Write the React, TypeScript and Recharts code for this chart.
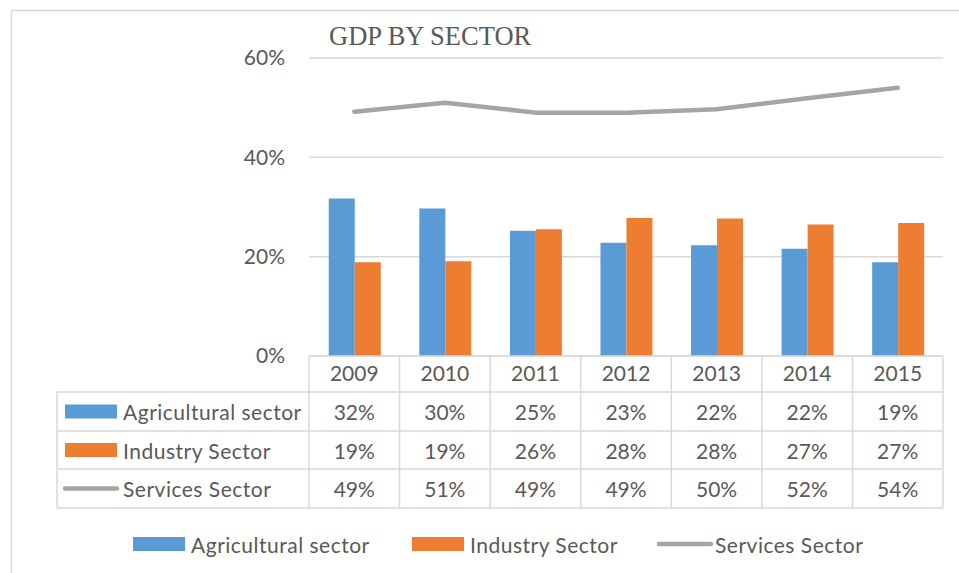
import React from 'react';
import { ComposedChart, Bar, Line, XAxis, YAxis, CartesianGrid } from 'recharts';

const years = ['2009', '2010', '2011', '2012', '2013', '2014', '2015'];
const agricultural = [31.7, 29.7, 25.2, 22.8, 22.3, 21.6, 18.9];
const industry = [18.9, 19.1, 25.5, 27.8, 27.7, 26.5, 26.8];
const services = [49.2, 51.0, 49.0, 49.0, 49.7, 51.9, 54.0];
const yTicks = [0, 20, 40, 60];
const seriesNames = ['Agricultural sector', 'Industry Sector', 'Services Sector'];

const BLUE = '#5b9bd5';
const ORANGE = '#ed7d31';
const GRAY = '#a5a5a5';
const TEXT = '#595959';
const GRID = '#d9d9d9';
const FONT = 'Lato, "Open Sans", sans-serif';

const W = 959;
const H = 573;
const PLOT_LEFT = 309;
const PLOT_RIGHT = 943;
const PLOT_TOP = 58;
const PLOT_BOTTOM = 356;
const Y_AXIS_W = 60;
const X_AXIS_H = 36;
const TABLE_LEFT = 57;
const ROW_EDGES = [356, 392, 431, 469, 508];

const data = years.map((y, i) => ({
  year: y,
  agri: agricultural[i],
  ind: industry[i],
  serv: services[i],
}));

const fmt = (v: number) => `${Math.round(v)}%`;

function Overlay() {
  const n = years.length;
  const colW = (PLOT_RIGHT - PLOT_LEFT) / n;
  const colX = Array.from({ length: n + 1 }, (_, i) => PLOT_LEFT + i * colW);
  const rows = [agricultural, industry, services];
  const colors = [BLUE, ORANGE, GRAY];
  const legendX = [133, 412, 657];
  return (
    <svg width={W} height={H} style={{ position: 'absolute', left: 0, top: 0, pointerEvents: 'none' }}>
      {/* outer border */}
      <line x1={11} y1={10.5} x2={W} y2={10.5} stroke={GRID} strokeWidth={1.5} />
      <line x1={11.5} y1={10} x2={11.5} y2={H} stroke={GRID} strokeWidth={1.5} />
      {/* title */}
      <text x={329} y={45} fontFamily='"Liberation Serif", "Times New Roman", serif' fontSize={26.5} fill={TEXT}>
        GDP BY SECTOR
      </text>
      {/* table horizontal lines */}
      <line x1={PLOT_LEFT} y1={ROW_EDGES[0]} x2={PLOT_RIGHT} y2={ROW_EDGES[0]} stroke={GRID} strokeWidth={1.5} />
      {ROW_EDGES.slice(1).map((y) => (
        <line key={y} x1={TABLE_LEFT} y1={y} x2={PLOT_RIGHT} y2={y} stroke={GRID} strokeWidth={1.5} />
      ))}
      {/* vertical lines */}
      <line x1={TABLE_LEFT} y1={ROW_EDGES[1]} x2={TABLE_LEFT} y2={ROW_EDGES[4]} stroke={GRID} strokeWidth={1.5} />
      {colX.map((x) => (
        <line key={x} x1={x} y1={ROW_EDGES[0]} x2={x} y2={ROW_EDGES[4]} stroke={GRID} strokeWidth={1.5} />
      ))}
      {/* row labels and values */}
      {rows.map((vals, r) => {
        const cy = (ROW_EDGES[r + 1] + ROW_EDGES[r + 2]) / 2;
        return (
          <g key={r}>
            {r < 2 ? (
              <rect x={65} y={cy - 7} width={52} height={14} fill={colors[r]} />
            ) : (
              <line x1={65} y1={cy} x2={117} y2={cy} stroke={GRAY} strokeWidth={4.5} strokeLinecap="round" />
            )}
            <text x={123} y={cy} dominantBaseline="central" fontFamily={FONT} fontSize={21} letterSpacing={0.5} fill={TEXT}>
              {seriesNames[r]}
            </text>
            {vals.map((v, i) => (
              <text
                key={i}
                x={colX[i] + colW / 2}
                y={cy}
                textAnchor="middle"
                dominantBaseline="central"
                fontFamily={FONT}
                fontSize={21}
                fill={TEXT}
              >
                {fmt(v)}
              </text>
            ))}
          </g>
        );
      })}
      {/* bottom legend */}
      {seriesNames.map((name, i) => (
        <g key={name}>
          {i < 2 ? (
            <rect x={legendX[i]} y={537} width={52} height={14} fill={colors[i]} />
          ) : (
            <line x1={legendX[i] + 2} y1={544} x2={legendX[i] + 54} y2={544} stroke={GRAY} strokeWidth={4.5} strokeLinecap="round" />
          )}
          <text x={legendX[i] + 58} y={544} dominantBaseline="central" fontFamily={FONT} fontSize={21} letterSpacing={0.5} fill={TEXT}>
            {name}
          </text>
        </g>
      ))}
    </svg>
  );
}

export default function App() {
  return (
    <div style={{ position: 'absolute', left: 0, top: 0, width: W, height: H, background: '#fff' }}>
      <ComposedChart
        width={W}
        height={H}
        data={data}
        margin={{ top: PLOT_TOP, right: W - PLOT_RIGHT, left: PLOT_LEFT - Y_AXIS_W, bottom: H - PLOT_BOTTOM - X_AXIS_H }}
        barGap={0}
        barCategoryGap="21.8%"
      >
        <CartesianGrid vertical={false} stroke={GRID} strokeWidth={1.5} />
        <XAxis
          dataKey="year"
          height={X_AXIS_H}
          axisLine={false}
          tickLine={false}
          tickSize={0}
          tickMargin={10}
          tick={{ fill: TEXT, fontSize: 21, fontFamily: FONT }}
          interval={0}
        />
        <YAxis
          width={Y_AXIS_W}
          domain={[0, 60]}
          ticks={yTicks}
          axisLine={false}
          tickLine={false}
          tickSize={0}
          tickMargin={24}
          tickFormatter={(v: number) => `${v}%`}
          tick={{ fill: TEXT, fontSize: 21, fontFamily: FONT }}
        />
        <Bar dataKey="agri" fill={BLUE} isAnimationActive={false} />
        <Bar dataKey="ind" fill={ORANGE} isAnimationActive={false} />
        <Line
          dataKey="serv"
          stroke={GRAY}
          strokeWidth={4.5}
          strokeLinecap="round"
          strokeLinejoin="round"
          dot={false}
          activeDot={false}
          isAnimationActive={false}
        />
      </ComposedChart>
      <Overlay />
    </div>
  );
}
